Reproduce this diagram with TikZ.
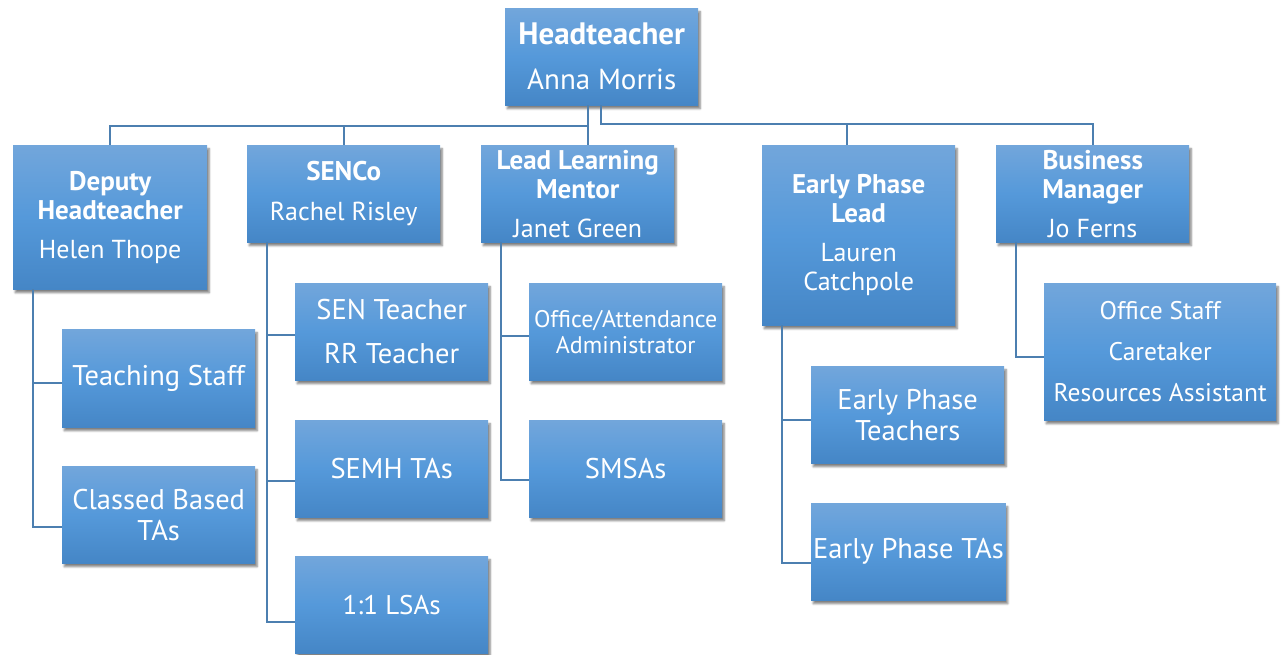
\documentclass[tikz,border=0pt]{standalone}
\usepackage{fontspec}
\setmainfont{PT Sans}
\usetikzlibrary{shadows.blur}
\definecolor{btop}{HTML}{72A6DB}
\definecolor{bmid}{HTML}{5599DA}
\definecolor{bbot}{HTML}{4586C6}
\definecolor{conncol}{HTML}{4C7FB0}
\tikzset{
  box/.style={anchor=north west, top color=btop, bottom color=bbot, middle color=bmid,
    text=white, align=center, inner sep=2pt, font=\fontsize{26}{29}\selectfont,
    blur shadow={shadow xshift=2pt, shadow yshift=-3.5pt, shadow blur steps=6, shadow opacity=50}},
  leaf/.style={box, minimum width=193pt, minimum height=97pt, font=\fontsize{28.5}{31}\selectfont},
  mgr/.style={box, minimum width=193pt, minimum height=97pt},
  conn/.style={draw=conncol, line width=2.2pt},
}
\newcommand{\ttl}[1]{{\bfseries\fontsize{27}{29}\selectfont #1}}
\begin{document}
\begin{tikzpicture}[x=1pt,y=-1pt]
\useasboundingbox (0,0) rectangle (1284,655);
% nodes
\node[mgr, font=\fontsize{29}{32}\selectfont] (head) at (505,8)
  {{\bfseries\fontsize{31}{32}\selectfont Headteacher}\\[13pt] Anna Morris};
\node[mgr, minimum width=194pt, minimum height=144pt] (dep) at (13,145)
  {\ttl{Deputy}\\ \ttl{Headteacher}\\[10pt] Helen Thope};
\node[mgr] (sen) at (247,145)
  {\ttl{SENCo}\\[11pt] Rachel Risley};
\node[mgr] (lead) at (481,145)
  {\ttl{Lead Learning}\\ \ttl{Mentor}\\[10pt] Janet Green};
\node[mgr, minimum height=180pt] (early) at (762,145)
  {\ttl{Early Phase}\\ \ttl{Lead}\\[10pt] Lauren\\ Catchpole};
\node[mgr] (bus) at (996,145)
  {\ttl{Business}\\ \ttl{Manager}\\[10pt] Jo Ferns};
\node[leaf, minimum height=98pt] (teach) at (62,329)
  {Teaching Staff};
\node[leaf] (cls) at (62,466)
  {Classed Based\\ TAs};
\node[leaf, font=\fontsize{28.5}{30}\selectfont] (sent) at (295,283)
  {SEN Teacher\\[14pt] RR Teacher};
\node[leaf] (semh) at (295,420)
  {SEMH TAs};
\node[leaf, font=\fontsize{27}{31}\selectfont] (lsa) at (295,556)
  {1:1 LSAs};
\node[leaf, font=\fontsize{24}{26}\selectfont] (off) at (529,283)
  {Office/Attendance\\ Administrator};
\node[leaf] (smsa) at (529,420)
  {SMSAs};
\node[leaf] (ept) at (811,366)
  {Early Phase\\ Teachers};
\node[leaf] (epta) at (811,503)
  {Early Phase TAs};
\node[box, minimum width=232pt, minimum height=137pt, font=\fontsize{25.5}{29}\selectfont] (ofs) at (1044,283)
  {Office Staff\\[12pt] Caretaker\\[12pt] Resources Assistant};
% connectors
\begin{scope}[conn]
\draw (588,0 |- head.south) -- (588,0 |- lead.north);
\draw (588,126) -| (dep.north);
\draw (sen.north) -- (sen.north |- 0,126);
\draw (601,0 |- head.south) |- (bus.north |- 0,124) -- (bus.north);
\draw (847,0 |- early.north) -- (847,124);
\draw (33,0 |- dep.south) |- (teach.west |- 0,383);
\draw (33,0 |- dep.south) |- (cls.west |- 0,527);
\draw (267,0 |- sen.south) |- (sent.west |- 0,335);
\draw (267,0 |- sen.south) |- (semh.west |- 0,481);
\draw (267,0 |- sen.south) |- (lsa.west |- 0,622);
\draw (501,0 |- lead.south) |- (off.west |- 0,336);
\draw (501,0 |- lead.south) |- (smsa.west |- 0,480);
\draw (782,0 |- early.south) |- (ept.west |- 0,420);
\draw (782,0 |- early.south) |- (epta.west |- 0,563);
\draw (1016,0 |- bus.south) |- (ofs.west |- 0,357);
\end{scope}
\end{tikzpicture}
\end{document}
